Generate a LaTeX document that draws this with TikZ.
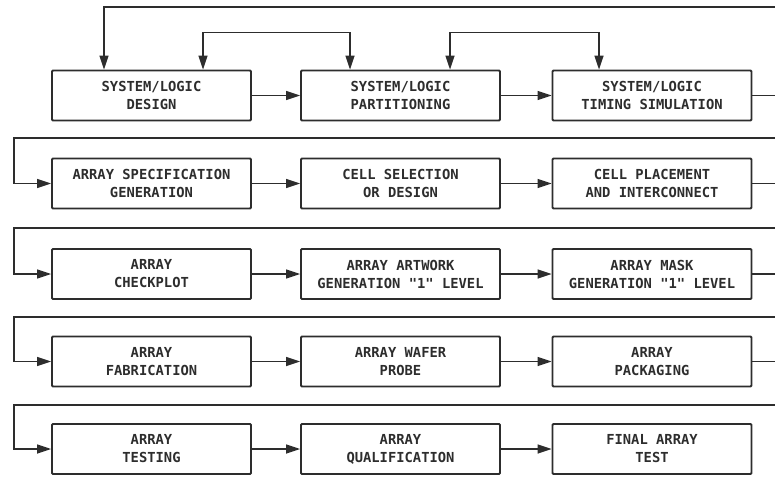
\documentclass[tikz,border=0pt]{standalone}
\usepackage{fontspec}
\usepackage{tikz}
\usetikzlibrary{arrows.meta}
\newfontfamily\lettering{DejaVu Sans Mono}
\definecolor{ink}{RGB}{45,45,45}

\begin{document}
\begin{tikzpicture}[
  x=1pt, y=-1pt,
  >={Triangle[length=14pt,width=9pt]},
  stepbox/.style={
    draw=ink,
    line width=1.8pt,
    rounded corners=1pt,
    minimum width=199pt,
    minimum height=50pt,
    align=center,
    inner sep=0pt,
    text=ink,
    font=\lettering\bfseries\fontsize{13.8}{18}\selectfont
  },
  flow/.style={->, line width=1.5pt, draw=ink},
  loopback/.style={<->, line width=1.5pt, draw=ink}
]
  \useasboundingbox (0,0) rectangle (775,481);
  \clip (0,0) rectangle (775,481);

  % Row 1: system/logic
  \node[stepbox] (design)    at (151.5, 95.5) {SYSTEM/LOGIC\\DESIGN};
  \node[stepbox] (partition) at (400.5, 95.5) {SYSTEM/LOGIC\\PARTITIONING};
  \node[stepbox] (timing)    at (652, 95.5)   {SYSTEM/LOGIC\\TIMING SIMULATION};

  % Row 2: array spec and cells
  \node[stepbox] (spec)      at (151.5, 183.5) {ARRAY SPECIFICATION\\GENERATION};
  \node[stepbox] (cellsel)   at (400.5, 183.5) {CELL SELECTION\\OR DESIGN};
  \node[stepbox] (cellplace) at (652, 183.5)   {CELL PLACEMENT\\AND INTERCONNECT};

  % Row 3: artwork and masks
  \node[stepbox] (checkplot) at (151.5, 274) {ARRAY\\CHECKPLOT};
  \node[stepbox] (artwork)   at (400.5, 274) {ARRAY ARTWORK\\GENERATION "1" LEVEL};
  \node[stepbox] (mask)      at (652, 274)   {ARRAY MASK\\GENERATION "1" LEVEL};

  % Row 4: fabrication
  \node[stepbox] (fab)       at (151.5, 361.5) {ARRAY\\FABRICATION};
  \node[stepbox] (probe)     at (400.5, 361.5) {ARRAY WAFER\\PROBE};
  \node[stepbox] (packaging) at (652, 361.5)   {ARRAY\\PACKAGING};

  % Row 5: test
  \node[stepbox] (testing)   at (151.5, 449) {ARRAY\\TESTING};
  \node[stepbox] (qual)      at (400.5, 449) {ARRAY\\QUALIFICATION};
  \node[stepbox] (final)     at (652, 449)   {FINAL ARRAY\\TEST};

  % Flow within rows
  \draw[flow] (design) -- (partition);
  \draw[flow] (partition) -- (timing);
  \draw[flow] (spec) -- (cellsel);
  \draw[flow] (cellsel) -- (cellplace);
  \draw[flow] (checkplot) -- (artwork);
  \draw[flow] (artwork) -- (mask);
  \draw[flow] (fab) -- (probe);
  \draw[flow] (probe) -- (packaging);
  \draw[flow] (testing) -- (qual);
  \draw[flow] (qual) -- (final);

  % Wrap lanes between rows
  \coordinate (laneA) at (14, 138);
  \coordinate (laneB) at (14, 228);
  \coordinate (laneC) at (14, 317);
  \coordinate (laneD) at (14, 405);
  \draw[flow] (timing.east) -- ++(40,0) |- (laneA) |- (spec.west);
  \draw[flow] (cellplace.east) -- ++(40,0) |- (laneB) |- (checkplot.west);
  \draw[flow] (mask.east) -- ++(40,0) |- (laneC) |- (fab.west);
  \draw[flow] (packaging.east) -- ++(40,0) |- (laneD) |- (testing.west);

  % Feedback loops on top
  \coordinate (topfeed) at (800, 7);
  \draw[flow] (topfeed) -| ([xshift=-47.5pt]design.north);
  \draw[loopback] ([xshift=51.5pt]design.north) -- ++(0,-37) -| ([xshift=-50.5pt]partition.north);
  \draw[loopback] ([xshift=49.5pt]partition.north) -- ++(0,-37) -| ([xshift=-53pt]timing.north);
\end{tikzpicture}
\end{document}
